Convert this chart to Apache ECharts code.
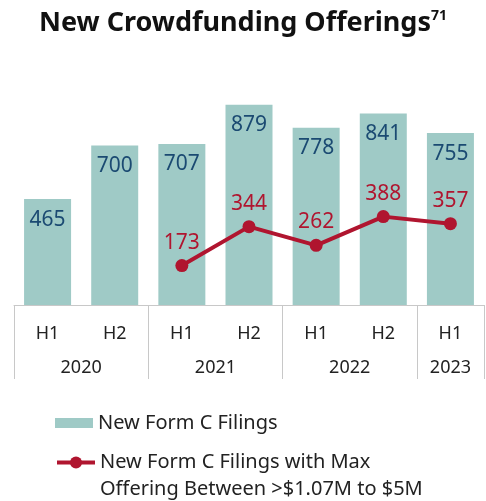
<!DOCTYPE html>
<html>
<head>
<meta charset="utf-8">
<script src="https://cdn.jsdelivr.net/npm/echarts@6/dist/echarts.min.js"></script>
<style>
    html, body {margin: 0; padding: 0; background: #fff;}
    #chart {width: 486px; height: 501px;}
</style>
</head>
<body>
<div id="chart"></div>
<script>
var halves = ['H1', 'H2', 'H1', 'H2', 'H1', 'H2', 'H1'];
var years = ['2020', '2021', '2022', '2023'];
var yearSpans = [2, 2, 2, 1];   //每年有几个半年
var formCFilings = [465, 700, 707, 879, 778, 841, 755];
var maxOfferingFilings = [null, null, 173, 344, 262, 388, 357];

var barName = 'New Form C Filings';
var lineName = 'New Form C Filings with Max\nOffering Between >$1.07M to $5M';
var font = 'Noto Sans';

// 年份分隔线和年份标签的位置（按类目计）
var yearTicks = [0];
var yearLabelPos = {};
var acc = 0;
for (var i = 0; i < years.length; i++) {
    yearLabelPos[acc + yearSpans[i] / 2] = years[i];
    acc += yearSpans[i];
    yearTicks.push(acc);
}

var chart = echarts.init(document.getElementById('chart'));
var option = {
    animation: false,
    textStyle: {fontFamily: font},
    title: {
        text: '{t|New Crowdfunding Offerings}{s|71}',
        left: 'center',
        top: 4,
        textStyle: {
            rich: {
                t: {fontSize: 27, fontWeight: 'bold', color: '#111', fontFamily: font},
                s: {fontSize: 14, fontWeight: 'bold', color: '#111', fontFamily: font, padding: [0, 0, 15, 0]}
            }
        }
    },
    legend: [
        {
            left: 50,
            top: 408,
            icon: 'rect',
            itemWidth: 38,
            itemHeight: 10,
            textStyle: {fontSize: 20, color: '#222', fontFamily: font},
            data: [barName]
        },
        {
            left: 50,
            top: 417,
            itemWidth: 38,
            itemHeight: 15,
            lineStyle: {width: 4},
            // 前面加一个空行，让第一行和图标对齐
            formatter: function (name) {
                return '\n' + name;
            },
            textStyle: {fontSize: 20, color: '#222', fontFamily: font, lineHeight: 27},
            data: [lineName]
        }
    ],
    grid: {left: 14, right: 2, top: 100, bottom: 196},
    xAxis: [
        {
            type: 'category',
            data: halves,
            axisLine: {lineStyle: {color: '#c8c8c8', width: 1}},
            axisTick: {show: false},
            axisLabel: {fontSize: 18, color: '#222', margin: 20}
        },
        {
            type: 'value',
            min: 0,
            max: halves.length,
            position: 'bottom',
            axisLine: {show: false},
            splitLine: {show: false},
            axisTick: {
                show: true,
                customValues: yearTicks,
                length: 74,
                lineStyle: {color: '#c8c8c8', width: 1}
            },
            axisLabel: {
                customValues: Object.keys(yearLabelPos).map(Number),
                fontSize: 18,
                color: '#222',
                margin: 54,
                formatter: function (v) {
                    return yearLabelPos[v] || '';
                }
            }
        }
    ],
    yAxis: {
        type: 'value',
        min: 0,
        max: 900,
        show: false,
        splitLine: {show: false}
    },
    series: [
        {
            name: barName,
            type: 'bar',
            xAxisIndex: 0,
            barWidth: '70%',
            itemStyle: {color: '#9fcac6'},
            label: {
                show: true,
                position: 'insideTop',
                distance: 10,
                fontSize: 21,
                color: '#1b4a72',
                fontFamily: font
            },
            data: formCFilings
        },
        {
            name: lineName,
            type: 'line',
            xAxisIndex: 0,
            symbol: 'circle',
            symbolSize: 13,
            itemStyle: {color: '#b0152f'},
            lineStyle: {color: '#b0152f', width: 4},
            label: {
                show: true,
                position: 'top',
                distance: 6,
                fontSize: 21,
                color: '#b0152f',
                fontFamily: font
            },
            data: maxOfferingFilings
        }
    ]
};
chart.setOption(option);   //为echarts对象加载数据
</script>
</body>
</html>
